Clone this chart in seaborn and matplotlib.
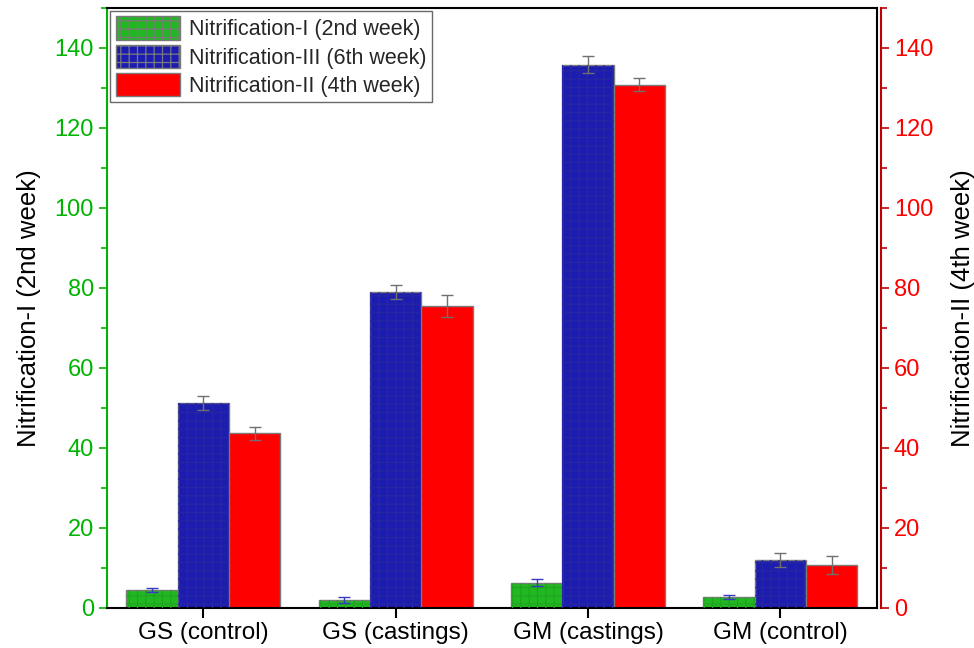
import numpy as np
import pandas as pd
import matplotlib
matplotlib.use("Agg")
import matplotlib.pyplot as plt
import seaborn as sns
from matplotlib.ticker import MultipleLocator

sites = ["GS (control)", "GS (castings)", "GM (castings)", "GM (control)"]
series = ["Nitrification-I (2nd week)", "Nitrification-III (6th week)", "Nitrification-II (4th week)"]
nit_1 = [4.5, 2.0, 6.3, 2.7]
nit_3 = [51.2, 79.0, 135.8, 12.0]
nit_2 = [43.6, 75.4, 130.8, 10.7]
err_1 = [0.5, 0.7, 0.8, 0.4]
err_3 = [1.8, 1.7, 2.1, 1.7]
err_2 = [1.7, 2.8, 1.6, 2.3]

fills = ["#22b822", "#1c1cb0", "#ff0000"]
dots = ["#1ea61e", "#2626a2", None]
err_colors = ["#3a3ac0", "#707070", "#707070"]

sns.set_style("ticks")
plt.rcParams["font.family"] = ["Liberation Sans", "DejaVu Sans"]
plt.rcParams["hatch.linewidth"] = 0.9

df = pd.DataFrame({
    "site": sites * 3,
    "series": np.repeat(series, len(sites)),
    "value": nit_1 + nit_3 + nit_2,
})

fig, ax = plt.subplots(figsize=(9.74, 6.48), dpi=100)
sns.barplot(data=df, x="site", y="value", hue="series", hue_order=series,
            order=sites, palette=fills, errorbar=None, width=0.8,
            edgecolor="#7a7a7a", linewidth=1.0, saturation=1, ax=ax)

# grid-like texture + error bars
values = [nit_1, nit_3, nit_2]
errs = [err_1, err_3, err_2]
n = len(sites)
bw = 0.8 / 3
for j in range(3):
    pos = np.arange(n) + (j - 1) * bw
    if dots[j]:
        ax.bar(pos, values[j], width=bw, facecolor="none", edgecolor=dots[j],
               hatch="++", linewidth=0, zorder=3)
    ax.errorbar(pos, values[j], yerr=errs[j], fmt="none", ecolor=err_colors[j],
                elinewidth=1.0, capsize=4.5, capthick=1.0, zorder=4)

green = "#00b400"
red = "#ff0000"
ax.set_xlim(-0.5, 3.5)
ax.set_ylim(0, 150)
ax.yaxis.set_major_locator(MultipleLocator(20))
ax.yaxis.set_minor_locator(MultipleLocator(10))
ax.set_xlabel("")
ax.set_ylabel("Nitrification-I (2nd week)", fontsize=18.5, color="black", labelpad=10)
ax.tick_params(axis="y", which="major", colors=green, labelsize=17, length=6, width=1.2)
ax.tick_params(axis="y", which="minor", colors=green, length=4, width=1.2)
ax.tick_params(axis="x", labelsize=17.5, length=7, width=1.5, colors="black")
ax.spines["left"].set_color(green)
ax.spines["left"].set_linewidth(1.5)
for s in ["top", "bottom", "right"]:
    ax.spines[s].set_visible(True)
    ax.spines[s].set_color("black")
    ax.spines[s].set_linewidth(1.5)

ax2 = ax.twinx()
ax2.set_ylim(0, 150)
ax2.yaxis.set_major_locator(MultipleLocator(20))
ax2.yaxis.set_minor_locator(MultipleLocator(10))
ax2.spines["right"].set_position(("outward", 3))
ax2.spines["right"].set_color("#c00000")
ax2.spines["right"].set_linewidth(1.5)
for s in ["top", "bottom", "left"]:
    ax2.spines[s].set_visible(False)
ax2.tick_params(axis="y", which="major", colors="#c00000", labelcolor=red,
                labelsize=17, length=6, width=1.2)
ax2.tick_params(axis="y", which="minor", colors="#c00000", length=4, width=1.2)
ax2.set_ylabel("Nitrification-II (4th week)", fontsize=18.5, color="black", labelpad=13)

leg = ax.legend(loc="upper left", fontsize=15.5, frameon=True, fancybox=False,
                borderaxespad=0.15, handlelength=3.0, handleheight=1.3,
                labelspacing=0.2, borderpad=0.25, handletextpad=0.4)
leg.get_frame().set_edgecolor("#444444")
leg.get_frame().set_linewidth(1.0)
for h, d in zip(leg.legend_handles, dots):
    h.set_edgecolor("#7a7a7a")
    if d:
        h.set_hatch("++")

fig.subplots_adjust(left=0.11, right=0.9, top=0.988, bottom=0.062)
fig.savefig("out.png", dpi=100)
